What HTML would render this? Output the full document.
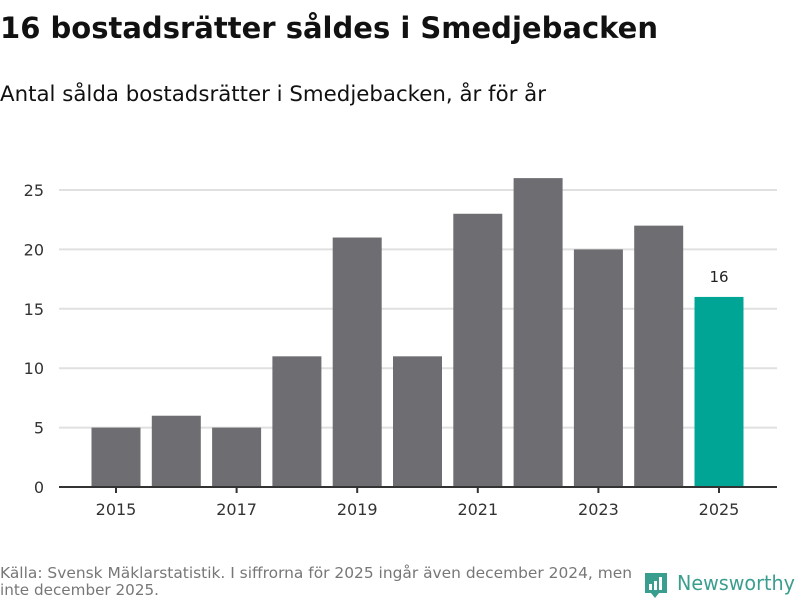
<!DOCTYPE html>
<html><head><meta charset="utf-8">
<style>
body{margin:0;width:800px;height:600px;background:#fff;font-family:"Liberation Sans","DejaVu Sans",sans-serif;overflow:hidden}
</style></head>
<body>
<svg width="800" height="600" xmlns="http://www.w3.org/2000/svg">
<text x="0" y="38" font-size="29.5" font-weight="bold" fill="#111" font-family="DejaVu Sans, sans-serif" textLength="658" lengthAdjust="spacingAndGlyphs">16 bostadsrätter såldes i Smedjebacken</text>
<text x="0" y="101" font-size="21" fill="#111" font-family="DejaVu Sans, sans-serif" textLength="546" lengthAdjust="spacingAndGlyphs">Antal sålda bostadsrätter i Smedjebacken, år för år</text>
<g id="grid"></g>
<g id="bars"></g>
<g id="xaxis"></g>
<text x="0" y="578" font-size="15" fill="#777" font-family="DejaVu Sans, sans-serif" textLength="632" lengthAdjust="spacingAndGlyphs">Källa: Svensk Mäklarstatistik. I siffrorna för 2025 ingår även december 2024, men</text>
<text x="0" y="595" font-size="15" fill="#777" font-family="DejaVu Sans, sans-serif" textLength="159" lengthAdjust="spacingAndGlyphs">inte december 2025.</text>
<g>
<path d="M645 573 h22 v20 h-8 l-4 5 l-4 -5 h-6 z" fill="#3a9e8f"/>
<rect x="649" y="584" width="3" height="6" fill="#fff"/><rect x="654" y="581" width="3" height="9" fill="#fff"/><rect x="659" y="577" width="3" height="13" fill="#fff"/>
<text x="677" y="590" font-size="20" fill="#3a9e8f" font-family="DejaVu Sans, sans-serif" textLength="118" lengthAdjust="spacingAndGlyphs">Newsworthy</text>
</g>
</svg>
<script>
const years=[2015,2016,2017,2018,2019,2020,2021,2022,2023,2024,2025];
const values=[5,6,5,11,21,11,23,26,20,22,16];
const yTicks=[0,5,10,15,20,25];
const xTickLabels=[2015,2017,2019,2021,2023,2025];
const NS="http://www.w3.org/2000/svg";
const y0=487,pxPer=297/25,x0=116,step=60.3,bw=49;
const y=v=>y0-v*pxPer, x=i=>x0+i*step;
function mk(t,a,p){const e=document.createElementNS(NS,t);for(const k in a)e.setAttribute(k,a[k]);p.appendChild(e);return e;}
const grid=document.getElementById('grid'),bars=document.getElementById('bars'),xa=document.getElementById('xaxis');
yTicks.forEach(v=>{
 if(v>0){const l=mk('line',{x1:59,x2:777,y1:y(v),y2:y(v),stroke:'#e0e0e0','stroke-width':2},grid);
 
 }
 const t=mk('text',{x:44,y:y(v)+6,'font-size':16,fill:'#333','text-anchor':'end','font-family':'DejaVu Sans, sans-serif'},grid);
 t.textContent=v;
 
 
});
years.forEach((yr,i)=>{
 const last=i===years.length-1;
 const r=mk('rect',{x:x(i)-bw/2,y:y(values[i]),width:bw,height:y0-y(values[i]),fill:last?'#00a596':'#6e6d72'},bars);
 
 
 if(last){const t=mk('text',{x:x(i),y:y(values[i])-15,'font-size':15,fill:'#222','text-anchor':'middle','font-family':'DejaVu Sans, sans-serif'},bars);
 t.textContent=values[i];
 
 }
});
const ax=mk('line',{x1:59,x2:777,y1:y0,y2:y0,stroke:'#333','stroke-width':2},xa);


xTickLabels.forEach(yr=>{
 const i=years.indexOf(yr);
 const tk=mk('line',{x1:x(i),x2:x(i),y1:y0,y2:y0+6,stroke:'#333','stroke-width':2},xa);
 
 
 const t=mk('text',{x:x(i),y:515,'font-size':16,fill:'#333','text-anchor':'middle','font-family':'DejaVu Sans, sans-serif'},xa);
 t.textContent=yr;
 
 
});
</script>
</body></html>
